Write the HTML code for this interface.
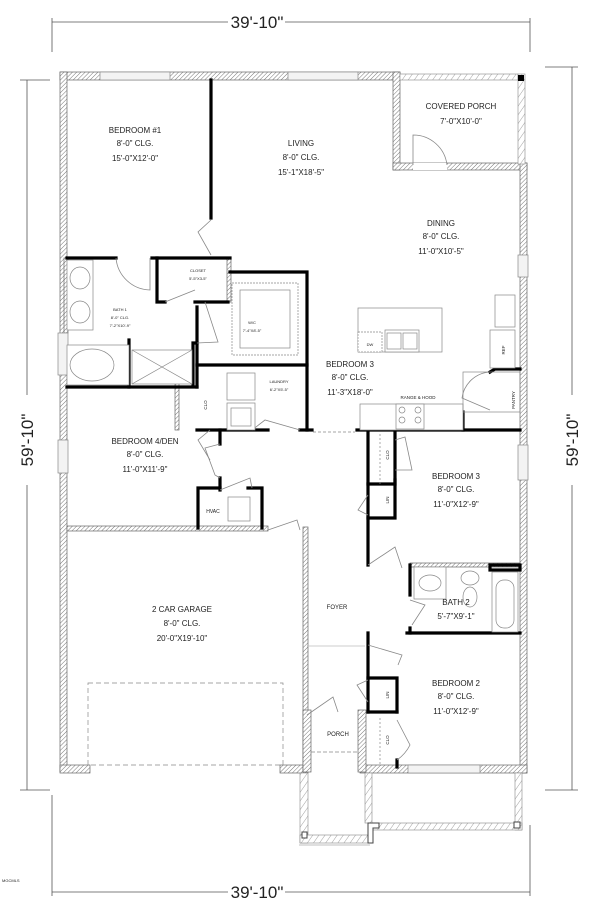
<!DOCTYPE html>
<html><head><meta charset="utf-8"><style>
html,body{margin:0;padding:0;background:#fff;width:600px;height:909px;overflow:hidden}
svg{display:block}
text{font-family:"Liberation Sans",sans-serif;fill:#222}
</style></head><body>
<svg width="600" height="909" viewBox="0 0 600 909" xmlns="http://www.w3.org/2000/svg">
<defs>
<pattern id="h" width="3" height="3" patternUnits="userSpaceOnUse" patternTransform="rotate(45)">
<rect width="3" height="3" fill="#fff"/><line x1="0" y1="0" x2="0" y2="3" stroke="#777" stroke-width="1"/></pattern>
<pattern id="h2" width="5" height="5" patternUnits="userSpaceOnUse" patternTransform="rotate(35)">
<rect width="5" height="5" fill="#fff"/><line x1="0" y1="0" x2="0" y2="5" stroke="#888" stroke-width="0.8"/></pattern>
</defs>

<!-- dimension lines -->
<g stroke="#555" stroke-width="0.8" fill="none">
<line x1="52" y1="22" x2="228" y2="22"/><line x1="285" y1="22" x2="530" y2="22"/>
<line x1="52" y1="18" x2="52" y2="52"/><line x1="530" y1="18" x2="530" y2="52"/>
<line x1="52" y1="892" x2="228" y2="892"/><line x1="285" y1="892" x2="530" y2="892"/>
<line x1="52" y1="795" x2="52" y2="896"/><line x1="530" y1="825" x2="530" y2="896"/>
<line x1="27" y1="80" x2="27" y2="395"/><line x1="27" y1="485" x2="27" y2="790"/>
<line x1="20" y1="80" x2="50" y2="80"/><line x1="20" y1="790" x2="50" y2="790"/>
<line x1="572" y1="67" x2="572" y2="395"/><line x1="572" y1="485" x2="572" y2="790"/>
<line x1="545" y1="67" x2="578" y2="67"/><line x1="545" y1="790" x2="578" y2="790"/>
</g>
<text x="257" y="28" font-size="17" text-anchor="middle">39'-10"</text>
<text x="257" y="898" font-size="17" text-anchor="middle">39'-10"</text>
<text transform="translate(33,440) rotate(-90)" font-size="17" text-anchor="middle">59'-10"</text>
<text transform="translate(578,440) rotate(-90)" font-size="17" text-anchor="middle">59'-10"</text>
<text x="2" y="882" font-size="4" fill="#666">MGCMLS</text>

<!-- exterior walls hatched -->
<g fill="url(#h)" stroke="#666" stroke-width="0.7">
<rect x="60" y="72" width="340" height="8"/>
<rect x="60" y="72" width="7" height="700"/>
<rect x="393" y="72" width="7" height="98"/>
<rect x="393" y="163" width="134" height="7"/>
<rect x="520" y="163" width="7" height="610"/>
<rect x="60" y="765" width="30" height="8"/>
<rect x="280" y="765" width="27" height="8"/>
<rect x="303" y="527" width="5" height="246"/>
<rect x="67" y="526" width="201" height="5"/>
<rect x="360" y="765" width="167" height="8"/>
<rect x="303" y="710" width="8" height="62"/>
<rect x="358" y="710" width="8" height="62"/>
<rect x="227" y="258" width="4" height="44"/>
<rect x="175" y="365" width="4" height="65"/>
<rect x="410" y="563" width="110" height="4"/>
<rect x="64" y="258" width="4" height="75"/>
</g>
<!-- windows -->
<g fill="#f3f3f3" stroke="#888" stroke-width="0.7">
<rect x="100" y="72" width="70" height="8"/><rect x="288" y="72" width="70" height="8"/>
<rect x="58" y="333" width="10" height="42"/><rect x="58" y="440" width="10" height="33"/>
<rect x="518" y="255" width="10" height="22"/><rect x="518" y="445" width="10" height="35"/>
<rect x="408" y="765" width="72" height="8"/>
<rect x="413" y="163" width="34" height="7" fill="#fff" stroke="none"/>
</g>
<!-- covered porch -->
<rect x="400" y="74" width="118" height="6" fill="url(#h2)" stroke="#888" stroke-width="0.6"/>
<rect x="518" y="74" width="7" height="90" fill="url(#h2)" stroke="#888" stroke-width="0.6"/>
<rect x="518" y="75" width="6" height="6" fill="#000"/>
<!-- front porch -->
<g fill="url(#h2)" stroke="#888" stroke-width="0.6">
<rect x="300" y="773" width="8" height="70"/><rect x="365" y="773" width="7" height="50"/>
<rect x="515" y="773" width="7" height="57"/><rect x="372" y="823" width="150" height="7"/>
<rect x="300" y="835" width="68" height="8"/>
</g>
<g fill="#fff" stroke="#444" stroke-width="1">
<rect x="302" y="832" width="5" height="6"/><rect x="514" y="822" width="6" height="6"/>
<path d="M368 823 h11 v5 h-6 v15 h-5 z"/>
</g>
<line x1="299" y1="845" x2="370" y2="845" stroke="#aaa" stroke-width="0.7"/>

<!-- interior black walls -->
<g stroke="#000" stroke-width="3.2" fill="none" stroke-linecap="square">
<line x1="211" y1="80" x2="211" y2="218"/>
<line x1="67" y1="258" x2="116" y2="258"/>
<line x1="152" y1="258" x2="230" y2="258"/>
<polyline points="157,258 157,302 165,302"/>
<line x1="195" y1="302" x2="228" y2="302"/>
<polyline points="230,272 307,272 307,430"/>
<line x1="197" y1="365" x2="307" y2="365"/>
<line x1="197" y1="307" x2="197" y2="387"/>
<polyline points="193,385 193,343 197,343"/>
<line x1="67" y1="387" x2="197" y2="387"/>
<line x1="129" y1="340" x2="129" y2="387"/>
<line x1="197" y1="430" x2="268" y2="430"/>
<line x1="300" y1="430" x2="312" y2="430"/>
<line x1="357" y1="430" x2="520" y2="430"/>
<line x1="220" y1="430" x2="220" y2="444"/>
<line x1="220" y1="478" x2="220" y2="490"/>
<polyline points="198,528 198,488 220,488"/>
<polyline points="248,488 262,488 262,528"/>
<line x1="368" y1="430" x2="368" y2="565"/>
<polyline points="368,484 395,484 395,430"/>
<polyline points="368,518 395,518 395,480"/>
<line x1="410" y1="565" x2="410" y2="595"/>
<line x1="410" y1="628" x2="410" y2="633"/>
<line x1="407" y1="633" x2="520" y2="633"/>
<rect x="490" y="565" width="30" height="5"/>
<line x1="368" y1="633" x2="368" y2="712"/>
<polyline points="368,678 397,678 397,712"/>
<polyline points="368,712 397,712"/>
<line x1="397" y1="760" x2="397" y2="767"/>
<line x1="463" y1="412" x2="463" y2="430"/>
<polyline points="490,372 495,369 520,369"/>
</g>

<!-- door swings -->
<g stroke="#888" stroke-width="0.8" fill="none">
<path d="M211 220 L198 232 L211 255"/>
<path d="M116 258 A35 35 0 0 0 150 290 L150 258"/>
<path d="M165 302 L195 290"/><path d="M205 302 L218 342 L197 343"/>
<path d="M413 165 L413 135 A34 34 0 0 1 447 165"/>
<path d="M490 372 A30 30 0 0 0 462 398 L490 410"/>
<path d="M252 430 L265 420 L300 430"/>
<path d="M210 430 L198 440 L210 460"/>
<path d="M220 444 L205 448 L215 475 L220 478"/>
<path d="M220 490 L250 478 L252 488"/>
<path d="M268 530 L297 520 L300 530"/>
<path d="M395 440 L405 437 L412 470 L395 470"/>
<path d="M368 495 L358 510 L368 515"/>
<path d="M368 565 L395 547 L402 568"/>
<path d="M410 600 L425 605 L412 625"/>
<path d="M368 645 L402 655 L398 665"/>
<path d="M368 680 L357 685 L368 702"/>
<path d="M307 715 L333 697 L338 712"/>
<path d="M397 720 L410 745 A40 40 0 0 1 397 760"/>
<line x1="307" y1="646" x2="365" y2="646" stroke="#bbb"/>
</g>

<!-- fixtures -->
<g stroke="#888" stroke-width="0.7" fill="#fff">
<rect x="67" y="260" width="26" height="70"/>
<ellipse cx="80" cy="278" rx="10" ry="11"/><ellipse cx="80" cy="312" rx="10" ry="11"/>
<rect x="67" y="345" width="62" height="40"/>
<ellipse cx="92" cy="365" rx="22" ry="16"/>
<rect x="132" y="350" width="60" height="34"/>
<path d="M132 350 L192 384 M192 350 L132 384" fill="none"/>
<rect x="232" y="283" width="66" height="72" stroke-dasharray="2 1"/>
<rect x="240" y="290" width="50" height="58"/>
<rect x="358" y="308" width="84" height="44"/>
<rect x="358" y="332" width="24" height="20" stroke-dasharray="2 1"/>
<rect x="385" y="330" width="34" height="22"/>
<rect x="387" y="333" width="14" height="16"/><rect x="403" y="333" width="14" height="16"/>
<rect x="360" y="404" width="103" height="26"/>
<rect x="396" y="404" width="28" height="25"/>
<circle cx="402" cy="410" r="3"/><circle cx="418" cy="410" r="3"/><circle cx="402" cy="420" r="3"/><circle cx="418" cy="420" r="3"/>
<rect x="495" y="295" width="20" height="32"/>
<rect x="490" y="330" width="25" height="38"/>
<rect x="463" y="372" width="57" height="40" fill="none"/>
<rect x="227" y="373" width="28" height="27"/><rect x="227" y="403" width="28" height="27"/>
<rect x="231" y="408" width="20" height="18"/>
<rect x="228" y="497" width="22" height="24"/>
<rect x="414" y="567" width="32" height="32"/><ellipse cx="430" cy="583" rx="11" ry="8"/>
<ellipse cx="470" cy="578" rx="9" ry="7"/><ellipse cx="470" cy="597" rx="7" ry="10"/>
<rect x="492" y="572" width="26" height="60"/><rect x="496" y="580" width="18" height="48" rx="8"/>
<rect x="88" y="683" width="195" height="82" fill="none" stroke-dasharray="5 3"/>
<line x1="311" y1="752" x2="358" y2="752" stroke-dasharray="4 2"/>
<line x1="380" y1="434" x2="380" y2="484" stroke-dasharray="2 2"/>
<line x1="380" y1="718" x2="380" y2="765" stroke-dasharray="2 2"/>
<line x1="313" y1="432" x2="355" y2="432" stroke-dasharray="3 2"/>
</g>

<!-- labels -->
<g font-size="8" text-anchor="middle">
<text x="135" y="133">BEDROOM #1</text><text x="135" y="146">8'-0" CLG.</text><text x="135" y="161">15'-0"X12'-0"</text>
<text x="301" y="146">LIVING</text><text x="301" y="160">8'-0" CLG.</text><text x="301" y="175">15'-1"X18'-5"</text>
<text x="461" y="109">COVERED PORCH</text><text x="461" y="124">7'-0"X10'-0"</text>
<text x="441" y="226">DINING</text><text x="441" y="239">8'-0" CLG.</text><text x="441" y="254">11'-0"X10'-5"</text>
<text x="350" y="367">BEDROOM 3</text><text x="350" y="380">8'-0" CLG.</text><text x="350" y="395">11'-3"X18'-0"</text>
<text x="145" y="444">BEDROOM 4/DEN</text><text x="145" y="457">8'-0" CLG.</text><text x="145" y="472">11'-0"X11'-9"</text>
<text x="456" y="479">BEDROOM 3</text><text x="456" y="492">8'-0" CLG.</text><text x="456" y="507">11'-0"X12'-9"</text>
<text x="182" y="612">2 CAR GARAGE</text><text x="182" y="626">8'-0" CLG.</text><text x="182" y="641">20'-0"X19'-10"</text>
<text x="456" y="605">BATH 2</text><text x="456" y="619">5'-7"X9'-1"</text>
<text x="456" y="686">BEDROOM 2</text><text x="456" y="699">8'-0" CLG.</text><text x="456" y="714">11'-0"X12'-9"</text>
<text x="337" y="609" font-size="6">FOYER</text>
<text x="338" y="736" font-size="6">PORCH</text>
<text x="213" y="513" font-size="5">HVAC</text>
<text x="418" y="399" font-size="4.5">RANGE &amp; HOOD</text>
</g>
<g font-size="4" text-anchor="middle">
<text x="198" y="272">CLOSET</text><text x="198" y="280">5'-5"X3-5"</text>
<text x="120" y="311">BATH 1</text><text x="120" y="319">8'-0" CLG.</text><text x="120" y="327">7'-2"X10'-9"</text>
<text x="252" y="324">W/C</text><text x="252" y="332">7'-4"X8'-5"</text>
<text x="279" y="383">LAUNDRY</text><text x="279" y="391">6'-2"X5'-5"</text>
<text x="370" y="346">DW</text>
</g>
<g font-size="4.5" text-anchor="middle">
<text transform="translate(207,405) rotate(-90)">CLO</text>
<text transform="translate(389,455) rotate(-90)">CLO</text>
<text transform="translate(389,500) rotate(-90)">LIN</text>
<text transform="translate(389,695) rotate(-90)">LIN</text>
<text transform="translate(389,740) rotate(-90)">CLO</text>
<text transform="translate(505,350) rotate(-90)">REF</text>
<text transform="translate(515,400) rotate(-90)">PANTRY</text>
</g>
</svg>
</body></html>
